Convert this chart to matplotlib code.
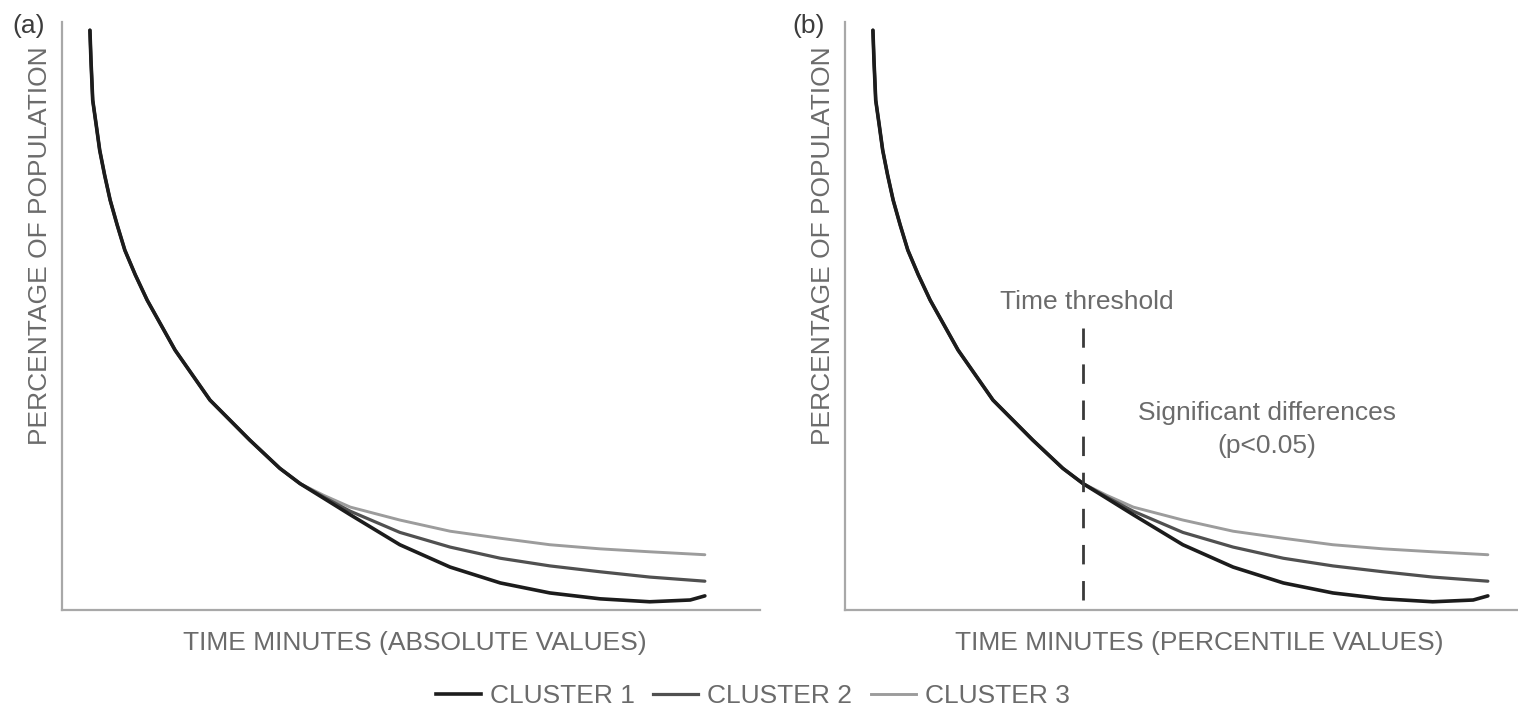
import matplotlib
matplotlib.use("Agg")
import matplotlib.pyplot as plt
from matplotlib.lines import Line2D

plt.rcParams['font.family'] = ['Liberation Sans', 'DejaVu Sans']

# x and y in 0-100 axis units
shared_x = [4.0, 4.15, 4.4, 4.9, 5.4, 6.1, 6.9, 7.9, 9.0, 10.5, 12.2, 16.2,
            21.2, 26.9, 31.2, 34.1]
shared_y = [98.6, 93.5, 86.7, 82.5, 78.2, 74.0, 69.7, 65.5, 61.2, 57.0, 52.7,
            44.2, 35.7, 28.9, 24.1, 21.5]

c1_x = [37.5, 41.3, 48.4, 55.6, 62.8, 69.9, 77.1, 84.2, 90.0, 92.1]
c1_y = [19.0, 16.2, 11.1, 7.3, 4.6, 2.9, 1.9, 1.4, 1.7, 2.4]

c2_x = [37.5, 41.3, 48.4, 55.6, 62.8, 69.9, 77.1, 84.2, 92.1]
c2_y = [19.2, 16.8, 13.2, 10.7, 8.8, 7.5, 6.5, 5.6, 4.9]

c3_x = [37.5, 41.3, 48.4, 55.6, 62.8, 69.9, 77.1, 84.2, 92.1]
c3_y = [19.5, 17.5, 15.3, 13.4, 12.2, 11.1, 10.4, 9.9, 9.4]

threshold_x = 34.1
threshold_y = [1.7, 48.0]

names = ['CLUSTER 1', 'CLUSTER 2', 'CLUSTER 3']
colors = ['#1c1c1c', '#505050', '#9c9c9c']
widths = [2.6, 2.3, 2.1]
series = [(c1_x, c1_y), (c2_x, c2_y), (c3_x, c3_y)]

txt = '#6b6b6b'
fig = plt.figure(figsize=(15.18, 7.13), dpi=100)
W, H = 1518, 713

ax_a = fig.add_axes([62 / W, 103 / H, 698 / W, 588 / H])
ax_b = fig.add_axes([845 / W, 103 / H, 698 / W, 588 / H])

xlabels = ['TIME MINUTES (ABSOLUTE VALUES)', 'TIME MINUTES (PERCENTILE VALUES)']
tags = ['(a)', '(b)']
tag_x = [12 / W, 792 / W]

for ax, xl, tag, tx in zip([ax_a, ax_b], xlabels, tags, tag_x):
    for (sx, sy), col, lw in zip(series[::-1], colors[::-1], widths[::-1]):
        ax.plot(shared_x + sx, shared_y + sy, color=col, lw=lw,
                solid_capstyle='round', solid_joinstyle='round')
    ax.set_xlim(0, 100)
    ax.set_ylim(0, 100)
    ax.set_xticks([])
    ax.set_yticks([])
    for s in ['top', 'right']:
        ax.spines[s].set_visible(False)
    for s in ['left', 'bottom']:
        ax.spines[s].set_color('#a8a8a8')
        ax.spines[s].set_linewidth(1.6)
    ax.text(-0.031, 0.62, 'PERCENTAGE OF POPULATION', rotation=90,
            transform=ax.transAxes, ha='center', va='center',
            fontsize=19, color=txt)
    fig.text(tx, 1 - 26 / H, tag, ha='left', va='center', fontsize=19,
             color='#3c3c3c')

ax_a.text(0.506, -0.056, xlabels[0], transform=ax_a.transAxes,
          ha='center', va='center', fontsize=19, color=txt)
ax_b.text(0.507, -0.056, xlabels[1], transform=ax_b.transAxes,
          ha='center', va='center', fontsize=19, color=txt)

ax_b.plot([threshold_x, threshold_x], threshold_y, color='#3a3a3a', lw=2,
          dashes=(7, 6))
ax_b.text(threshold_x + 0.6, 52.4, 'Time threshold', ha='center',
          va='center', fontsize=19, color=txt)
ax_b.text(60.4, 33.5, 'Significant differences', ha='center',
          va='center', fontsize=19, color=txt)
ax_b.text(60.4, 27.9, '(p<0.05)', ha='center', va='center',
          fontsize=19, color=txt)

handles = [Line2D([], [], color=c, lw=lw) for c, lw in zip(colors, widths)]
fig.legend(handles, names, loc='lower center', bbox_to_anchor=(0.496, -0.012),
           ncol=3, frameon=False, fontsize=19, labelcolor=txt,
           handlelength=1.7, handletextpad=0.35, columnspacing=0.7,
           borderpad=0)

fig.savefig('out.png', dpi=100)
